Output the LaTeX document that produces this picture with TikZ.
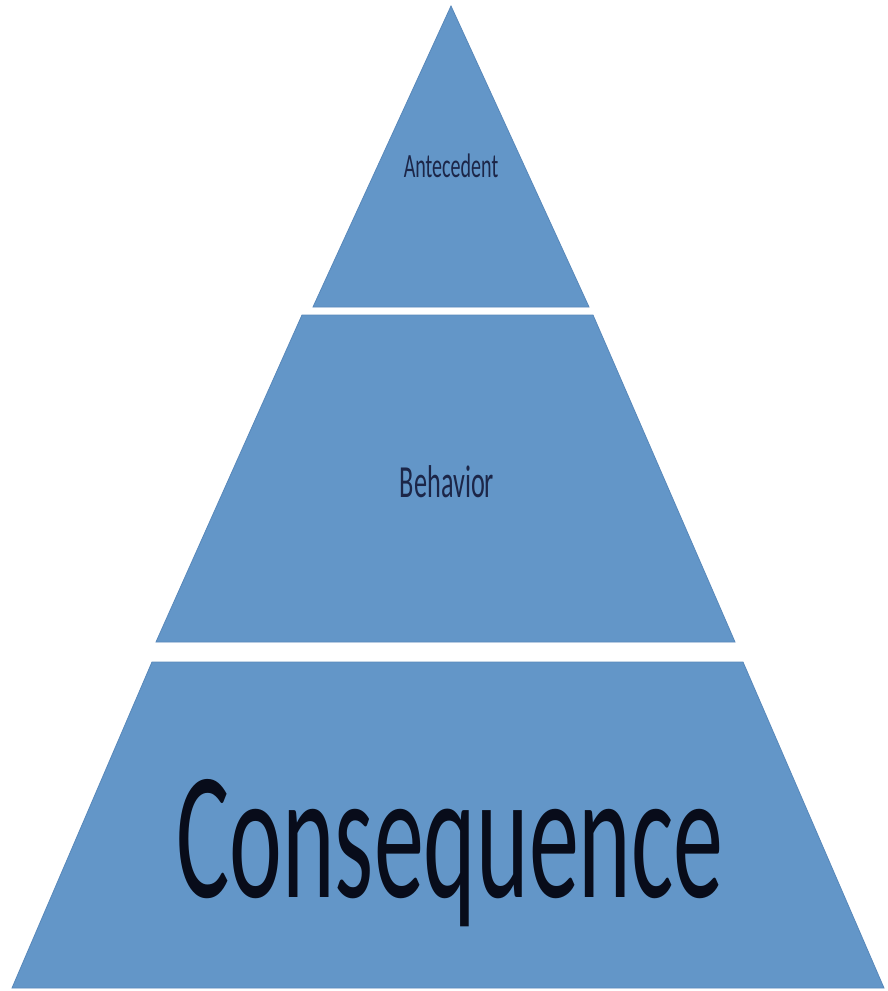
\documentclass[tikz,border=0pt]{standalone}
\usepackage{fontspec}
\setmainfont{Carlito}
\usepackage{graphicx}
\definecolor{tierfill}{RGB}{99,150,200}
\definecolor{tieredge}{RGB}{88,136,186}
\definecolor{navytext}{RGB}{28,38,72}
\definecolor{inktext}{RGB}{8,12,26}
\tikzset{
  tier/.style={fill=tierfill, draw=tieredge, line width=0.8pt, line join=miter},
  tierlabel/.style={inner sep=0pt, anchor=base}
}
\begin{document}
\begin{tikzpicture}[x=1pt,y=-1pt]
  \useasboundingbox (0,0) rectangle (887,991);
  \fill[white] (0,0) rectangle (887,991);

  % top tier
  \draw[tier] (451,6) -- (589,307) -- (313,307) -- cycle;
  % middle tier
  \draw[tier] (302,315) -- (593,315) -- (735,642) -- (156,642) -- cycle;
  % bottom tier
  \draw[tier] (152,662) -- (743,662) -- (884,988) -- (12,988) -- cycle;

  \node[tierlabel, text=navytext] (antecedent) at (451,177)
    {\scalebox{0.59}[1]{\fontsize{34}{40}\selectfont Antecedent}};
  \node[tierlabel, text=navytext] (behavior) at (447,497)
    {\scalebox{0.57}[1]{\fontsize{46}{54}\selectfont Behavior}};
  \node[tierlabel, text=inktext] (consequence) at (450,897)
    {\scalebox{0.55}[1]{\fontsize{182}{210}\selectfont Consequence}};
\end{tikzpicture}
\end{document}
